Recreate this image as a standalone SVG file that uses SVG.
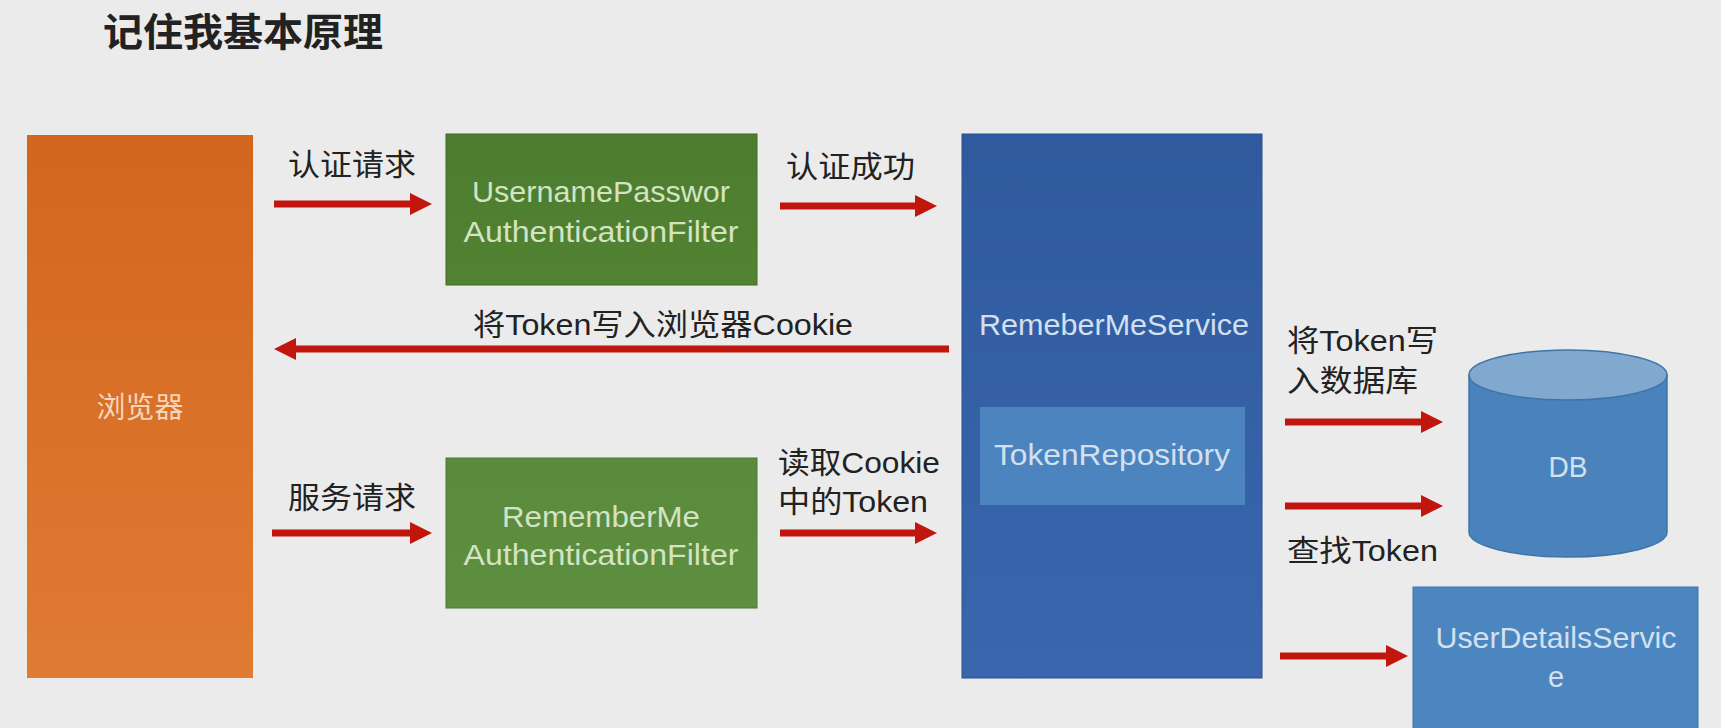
<svg xmlns="http://www.w3.org/2000/svg" width="1721" height="728" viewBox="0 0 1721 728">
<defs>
<linearGradient id="gOrange" x1="0" y1="0" x2="0" y2="1"><stop offset="0" stop-color="#D2661E"/><stop offset="1" stop-color="#E07B33"/></linearGradient>
<linearGradient id="gBlue" x1="0" y1="0" x2="0" y2="1"><stop offset="0" stop-color="#2F5A9E"/><stop offset="1" stop-color="#3A66AE"/></linearGradient>
<linearGradient id="gGreen1" x1="0" y1="0" x2="0" y2="1"><stop offset="0" stop-color="#4C7C2E"/><stop offset="1" stop-color="#528332"/></linearGradient>
<linearGradient id="gGreen2" x1="0" y1="0" x2="0" y2="1"><stop offset="0" stop-color="#5A8A3C"/><stop offset="1" stop-color="#5E8F40"/></linearGradient>
<marker id="ah" markerUnits="userSpaceOnUse" markerWidth="24" markerHeight="24" refX="0" refY="11" orient="auto">
<path d="M0,0 L22,11 L0,22 z" fill="#C0160D"/>
</marker>
<style>
.lbl{font-family:"Liberation Sans","Noto Sans CJK SC",sans-serif;font-size:30px;fill:#222;}
.in{font-family:"Liberation Sans","Noto Sans CJK SC",sans-serif;font-size:29px;}
.ing{fill:#D3E3C3;}
.inb{fill:#D3E0EF;}
.ino{fill:#F6D5BC;}
.arr{stroke:#C0160D;stroke-width:7;fill:none;marker-end:url(#ah);}
</style>
</defs>
<rect x="0" y="0" width="1721" height="728" fill="#EBEBEB"/>
<text x="103" y="46" font-family="'Noto Sans CJK SC',sans-serif" font-weight="700" font-size="39" fill="#222" textLength="280" lengthAdjust="spacingAndGlyphs">记住我基本原理</text>

<g id="browser">
<rect x="27" y="135" width="226" height="543" fill="url(#gOrange)"/>
<text class="in ino" x="140" y="418" text-anchor="middle" font-family="'Noto Sans CJK SC',sans-serif">浏览器</text>
</g>

<g id="upaf">
<rect x="446" y="134" width="311" height="151" fill="url(#gGreen1)" stroke="#3F6A26" stroke-width="1"/>
<text class="in ing" x="601" y="202" text-anchor="middle" textLength="258" lengthAdjust="spacingAndGlyphs">UsernamePasswor</text>
<text class="in ing" x="601" y="242" text-anchor="middle" textLength="275" lengthAdjust="spacingAndGlyphs">AuthenticationFilter</text>
</g>

<g id="rmaf">
<rect x="446" y="458" width="311" height="150" fill="url(#gGreen2)" stroke="#4A7A2E" stroke-width="1"/>
<text class="in ing" x="601" y="527" text-anchor="middle" textLength="198" lengthAdjust="spacingAndGlyphs">RememberMe</text>
<text class="in ing" x="601" y="565" text-anchor="middle" textLength="275" lengthAdjust="spacingAndGlyphs">AuthenticationFilter</text>
</g>

<g id="rememberMeService">
<rect x="962" y="134" width="300" height="544" fill="url(#gBlue)" stroke="#2A5090" stroke-width="1"/>
<text class="in inb" x="1114" y="335" text-anchor="middle" textLength="270" lengthAdjust="spacingAndGlyphs">RemeberMeService</text>
</g>

<g id="tokenRepository">
<rect x="980" y="407" width="265" height="98" fill="#4B84BE"/>
<text class="in inb" x="1112" y="465" text-anchor="middle" textLength="236" lengthAdjust="spacingAndGlyphs">TokenRepository</text>
</g>

<g id="db">
<path d="M1469,375 L1469,532 A99,25 0 0 0 1667,532 L1667,375 Z" fill="#4A83BC" stroke="#3F74AB" stroke-width="1.5"/>
<ellipse cx="1568" cy="375" rx="99" ry="25" fill="#81A9CF" stroke="#3F74AB" stroke-width="1.5"/>
<text class="in inb" x="1568" y="477" text-anchor="middle" textLength="39" lengthAdjust="spacingAndGlyphs">DB</text>
</g>

<g id="userDetailsService">
<rect x="1413" y="587" width="285" height="150" fill="#4B86C0" stroke="#3E76AE" stroke-width="1"/>
<text class="in inb" x="1556" y="648" text-anchor="middle" textLength="241" lengthAdjust="spacingAndGlyphs">UserDetailsServic</text>
<text class="in inb" x="1556" y="687" text-anchor="middle">e</text>
</g>

<g id="connectors">
<line class="arr" x1="274" y1="204" x2="410" y2="204"/>
<line class="arr" x1="780" y1="206" x2="915" y2="206"/>
<line class="arr" x1="949" y1="349" x2="296" y2="349"/>
<line class="arr" x1="272" y1="533" x2="410" y2="533"/>
<line class="arr" x1="780" y1="533" x2="915" y2="533"/>
<line class="arr" x1="1285" y1="422" x2="1421" y2="422"/>
<line class="arr" x1="1285" y1="506" x2="1421" y2="506"/>
<line class="arr" x1="1280" y1="656" x2="1386" y2="656"/>
</g>

<g id="labels">
<text class="lbl" x="288" y="175" textLength="128" lengthAdjust="spacingAndGlyphs">认证请求</text>
<text class="lbl" x="786" y="177" textLength="129" lengthAdjust="spacingAndGlyphs">认证成功</text>
<text class="lbl" x="473" y="335" textLength="380" lengthAdjust="spacingAndGlyphs">将Token写入浏览器Cookie</text>
<text class="lbl" x="288" y="508" textLength="128" lengthAdjust="spacingAndGlyphs">服务请求</text>
<text class="lbl" x="778" y="473" textLength="162" lengthAdjust="spacingAndGlyphs">读取Cookie</text>
<text class="lbl" x="778" y="512" textLength="150" lengthAdjust="spacingAndGlyphs">中的Token</text>
<text class="lbl" x="1287" y="351" textLength="151" lengthAdjust="spacingAndGlyphs">将Token写</text>
<text class="lbl" x="1287" y="391" textLength="131" lengthAdjust="spacingAndGlyphs">入数据库</text>
<text class="lbl" x="1287" y="561" textLength="151" lengthAdjust="spacingAndGlyphs">查找Token</text>
</g>
</svg>
